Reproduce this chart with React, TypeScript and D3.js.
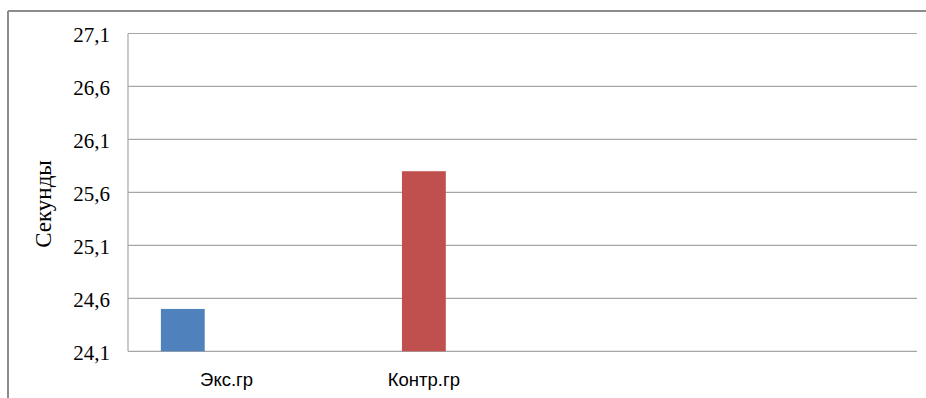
import React from "react";
import * as d3 from "d3";

// Categories along the x axis (last two slots are empty in the workbook)
const categories: string[] = ["Экс.гр", "Контр.гр", "", ""];
// Series values per category; null = no bar
const seriesExp: (number | null)[] = [24.5, null, null, null];
const seriesCtrl: (number | null)[] = [null, 25.8, null, null];
const seriesThird: (number | null)[] = [null, null, null, null];
const yTicks: number[] = [24.1, 24.6, 25.1, 25.6, 26.1, 26.6, 27.1];
const yTitle = "Секунды";

const seriesList = [
  { key: "exp", values: seriesExp, color: "#4f81bd" },
  { key: "ctrl", values: seriesCtrl, color: "#c0504d" },
  { key: "third", values: seriesThird, color: "#9bbb59" },
];

const W = 926;
const H = 398;
const plot = { left: 128, right: 917, top: 33.5, bottom: 351.3 };

const serif = { fontFamily: "Liberation Serif, DejaVu Serif, serif" };
const sans = { fontFamily: "Liberation Sans, Arial, sans-serif" };

export default function App() {
  const x = d3
    .scaleBand<string>()
    .domain(categories.map((_, i) => String(i)))
    .range([plot.left, plot.right])
    .paddingInner(0)
    .paddingOuter(0);
  const bw = x.bandwidth();
  // 3 bars + 150% gap per category
  const barW = bw / 4.5;
  const inner = d3
    .scaleBand<string>()
    .domain(seriesList.map((s) => s.key))
    .range([0.75 * barW, 3.75 * barW]);

  const y = d3.scaleLinear().domain([24.1, 27.1]).range([plot.bottom, plot.top]);

  const fmt = (v: number) => d3.format(".1f")(v).replace(".", ",");

  return (
    <svg
      width={W}
      height={H}
      style={{ position: "absolute", left: 0, top: 0, background: "#fff" }}
    >
      {/* outer chart frame */}
      <line x1={8} y1={11} x2={W} y2={11} stroke="#8c8c8c" strokeWidth={2} />
      <line x1={8} y1={11} x2={8} y2={H} stroke="#8c8c8c" strokeWidth={2} />

      {/* gridlines */}
      {yTicks.map((t) => (
        <line
          key={t}
          x1={plot.left}
          x2={plot.right}
          y1={y(t)}
          y2={y(t)}
          stroke="#a6a6a6"
          strokeWidth={1.2}
        />
      ))}
      {/* value axis line */}
      <line
        x1={plot.left}
        x2={plot.left}
        y1={plot.top}
        y2={plot.bottom}
        stroke="#a6a6a6"
        strokeWidth={1.2}
      />

      {/* y tick labels */}
      {yTicks.map((t) => (
        <text
          key={"l" + t}
          x={110}
          y={y(t)}
          dy="0.4em"
          textAnchor="end"
          style={serif}
          fontSize={21}
          fill="#000"
        >
          {fmt(t)}
        </text>
      ))}

      {/* y axis title */}
      <text
        transform={`translate(${51},${204}) rotate(-90)`}
        textAnchor="middle"
        style={serif}
        fontSize={23}
        fill="#000"
      >
        {yTitle}
      </text>

      {/* bars */}
      {seriesList.map((s) =>
        s.values.map((v, i) =>
          v == null ? null : (
            <rect
              key={s.key + i}
              x={(x(String(i)) as number) + (inner(s.key) as number)}
              y={y(v)}
              width={inner.bandwidth()}
              height={y(24.1) - y(v)}
              fill={s.color}
            />
          )
        )
      )}

      {/* category labels */}
      {categories.map((c, i) => (
        <text
          key={"c" + i}
          x={(x(String(i)) as number) + bw / 2}
          y={386}
          textAnchor="middle"
          style={sans}
          fontSize={18.5}
          fill="#000"
        >
          {c}
        </text>
      ))}
    </svg>
  );
}
